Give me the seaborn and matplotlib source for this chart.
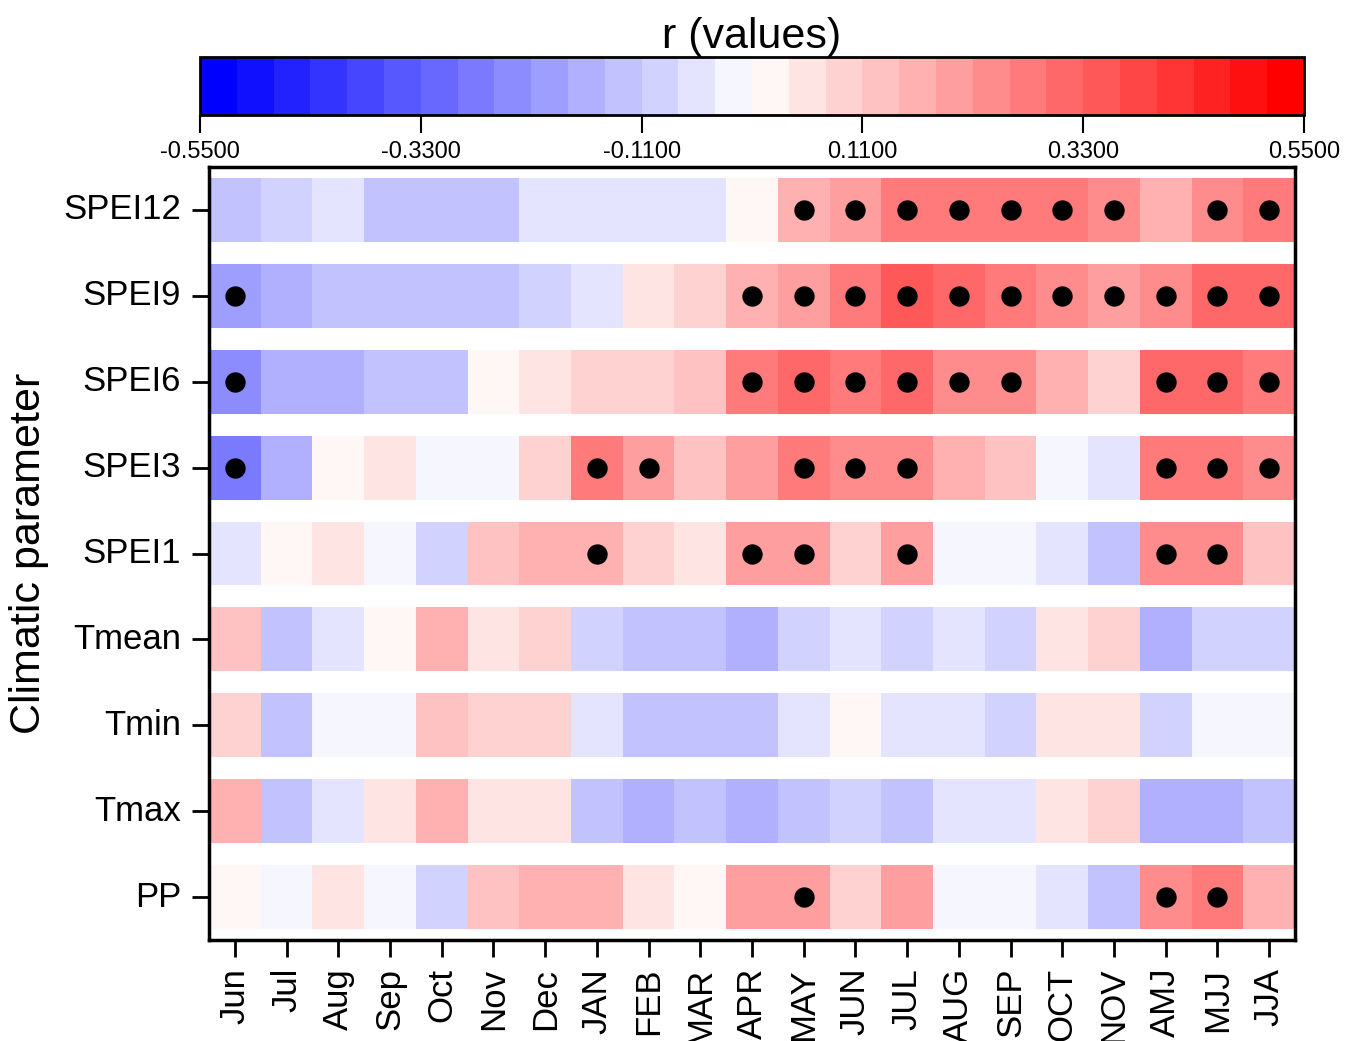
import numpy as np
import pandas as pd
import matplotlib
matplotlib.use("Agg")
import matplotlib.pyplot as plt
import seaborn as sns
from matplotlib.colors import LinearSegmentedColormap, ListedColormap

# ---------------- data ----------------
periods = ["Jun", "Jul", "Aug", "Sep", "Oct", "Nov", "Dec", "JAN", "FEB", "MAR",
           "APR", "MAY", "JUN", "JUL", "AUG", "SEP", "OCT", "NOV", "AMJ", "MJJ", "JJA"]
parameters = ["SPEI12", "SPEI9", "SPEI6", "SPEI3", "SPEI1", "Tmean", "Tmin", "Tmax", "PP"]

SPEI12 = [-0.128, -0.092, -0.055, -0.128, -0.128, -0.128, -0.055, -0.055, -0.055, -0.055,
          0.018, 0.165, 0.202, 0.275, 0.275, 0.275, 0.275, 0.238, 0.165, 0.238, 0.275]
SPEI9 = [-0.202, -0.165, -0.128, -0.128, -0.128, -0.128, -0.092, -0.055, 0.055, 0.092,
         0.165, 0.202, 0.275, 0.348, 0.312, 0.275, 0.238, 0.202, 0.238, 0.312, 0.312]
SPEI6 = [-0.238, -0.165, -0.165, -0.128, -0.128, 0.018, 0.055, 0.092, 0.092, 0.128,
         0.275, 0.312, 0.275, 0.312, 0.238, 0.238, 0.165, 0.092, 0.312, 0.312, 0.275]
SPEI3 = [-0.275, -0.165, 0.018, 0.055, -0.018, -0.018, 0.092, 0.275, 0.202, 0.128,
         0.202, 0.275, 0.238, 0.238, 0.165, 0.128, -0.018, -0.055, 0.275, 0.275, 0.238]
SPEI1 = [-0.055, 0.018, 0.055, -0.018, -0.092, 0.128, 0.165, 0.165, 0.092, 0.055,
         0.202, 0.202, 0.092, 0.202, -0.018, -0.018, -0.055, -0.128, 0.238, 0.238, 0.128]
Tmean = [0.128, -0.128, -0.055, 0.018, 0.165, 0.055, 0.092, -0.092, -0.128, -0.128,
         -0.165, -0.092, -0.055, -0.092, -0.055, -0.092, 0.055, 0.092, -0.165, -0.092, -0.092]
Tmin = [0.092, -0.128, -0.018, -0.018, 0.128, 0.092, 0.092, -0.055, -0.128, -0.128,
        -0.128, -0.055, 0.018, -0.055, -0.055, -0.092, 0.055, 0.055, -0.092, -0.018, -0.018]
Tmax = [0.165, -0.128, -0.055, 0.055, 0.165, 0.055, 0.055, -0.128, -0.165, -0.128,
        -0.165, -0.128, -0.092, -0.128, -0.055, -0.055, 0.055, 0.092, -0.165, -0.165, -0.128]
PP = [0.018, -0.018, 0.055, -0.018, -0.092, 0.128, 0.165, 0.165, 0.055, 0.018,
      0.202, 0.202, 0.092, 0.202, -0.018, -0.018, -0.055, -0.128, 0.238, 0.275, 0.165]

# significant correlations (black dots)
sig_SPEI12 = ["MAY", "JUN", "JUL", "AUG", "SEP", "OCT", "NOV", "MJJ", "JJA"]
sig_SPEI9 = ["Jun", "APR", "MAY", "JUN", "JUL", "AUG", "SEP", "OCT", "NOV", "AMJ", "MJJ", "JJA"]
sig_SPEI6 = ["Jun", "APR", "MAY", "JUN", "JUL", "AUG", "SEP", "AMJ", "MJJ", "JJA"]
sig_SPEI3 = ["Jun", "JAN", "FEB", "MAY", "JUN", "JUL", "AMJ", "MJJ", "JJA"]
sig_SPEI1 = ["JAN", "APR", "MAY", "JUL", "AMJ", "MJJ"]
sig_Tmean = []
sig_Tmin = []
sig_Tmax = []
sig_PP = ["MAY", "AMJ", "MJJ"]

cbar_ticks = [-0.55, -0.33, -0.11, 0.11, 0.33, 0.55]
cbar_title = "r (values)"
ylabel = "Climatic parameter"

# ---------------- style ----------------
sns.set_style("white")
plt.rcParams["font.family"] = ["Liberation Sans", "DejaVu Sans"]
plt.rcParams["text.color"] = "black"
plt.rcParams["axes.labelcolor"] = "black"
plt.rcParams["xtick.color"] = "black"
plt.rcParams["ytick.color"] = "black"

df = pd.DataFrame([SPEI12, SPEI9, SPEI6, SPEI3, SPEI1, Tmean, Tmin, Tmax, PP],
                  index=parameters, columns=periods)
sig = [sig_SPEI12, sig_SPEI9, sig_SPEI6, sig_SPEI3, sig_SPEI1, sig_Tmean, sig_Tmin, sig_Tmax, sig_PP]

base = LinearSegmentedColormap.from_list("bwr3", ["#0000ff", "#ffffff", "#ff0000"])
cmap = ListedColormap(base(np.linspace(0, 1, 30)))

W, H = 1354, 1041
fig = plt.figure(figsize=(W / 100, H / 100), dpi=100)
ax = fig.add_axes([209 / W, 1 - 940 / H, 1086 / W, 773 / H])
cax = fig.add_axes([200 / W, 1 - 115 / H, 1104 / W, 58 / H])

sns.heatmap(df, ax=ax, cmap=cmap, vmin=-0.55, vmax=0.55, cbar_ax=cax,
            cbar_kws=dict(orientation="horizontal", ticks=cbar_ticks, format="%.4f"))

# white gaps between rows
ax.hlines(np.arange(0, len(parameters) + 1), 0, len(periods), colors="white",
          linewidth=15.8, zorder=2)

# significance dots
xs, ys = [], []
for i, lst in enumerate(sig):
    for p in lst:
        xs.append(periods.index(p) + 0.5)
        ys.append(i + 0.5)
ax.scatter(xs, ys, s=215, color="black", zorder=3, linewidths=0)

for s in ax.spines.values():
    s.set_visible(True)
    s.set_linewidth(2.5)
    s.set_color("black")
    s.set_zorder(4)

ax.tick_params(axis="both", which="major", bottom=True, left=True, length=12, width=2,
               color="black", labelcolor="black", direction="out", labelsize=25, pad=8)
ax.set_yticklabels(parameters, rotation=0)
ax.set_xticklabels(periods, rotation=90)
ax.set_xlabel("")
ax.set_ylabel(ylabel, fontsize=31, labelpad=10, color="black")

cb = ax.collections[0].colorbar
cb.outline.set_linewidth(2)
cb.outline.set_edgecolor("black")
cax.tick_params(axis="x", bottom=True, length=13, width=1.5, color="black",
                labelcolor="black", labelsize=17, pad=6)
cax.set_title(cbar_title, fontsize=31, pad=5, color="black")

fig.savefig("out.png", dpi=100)
